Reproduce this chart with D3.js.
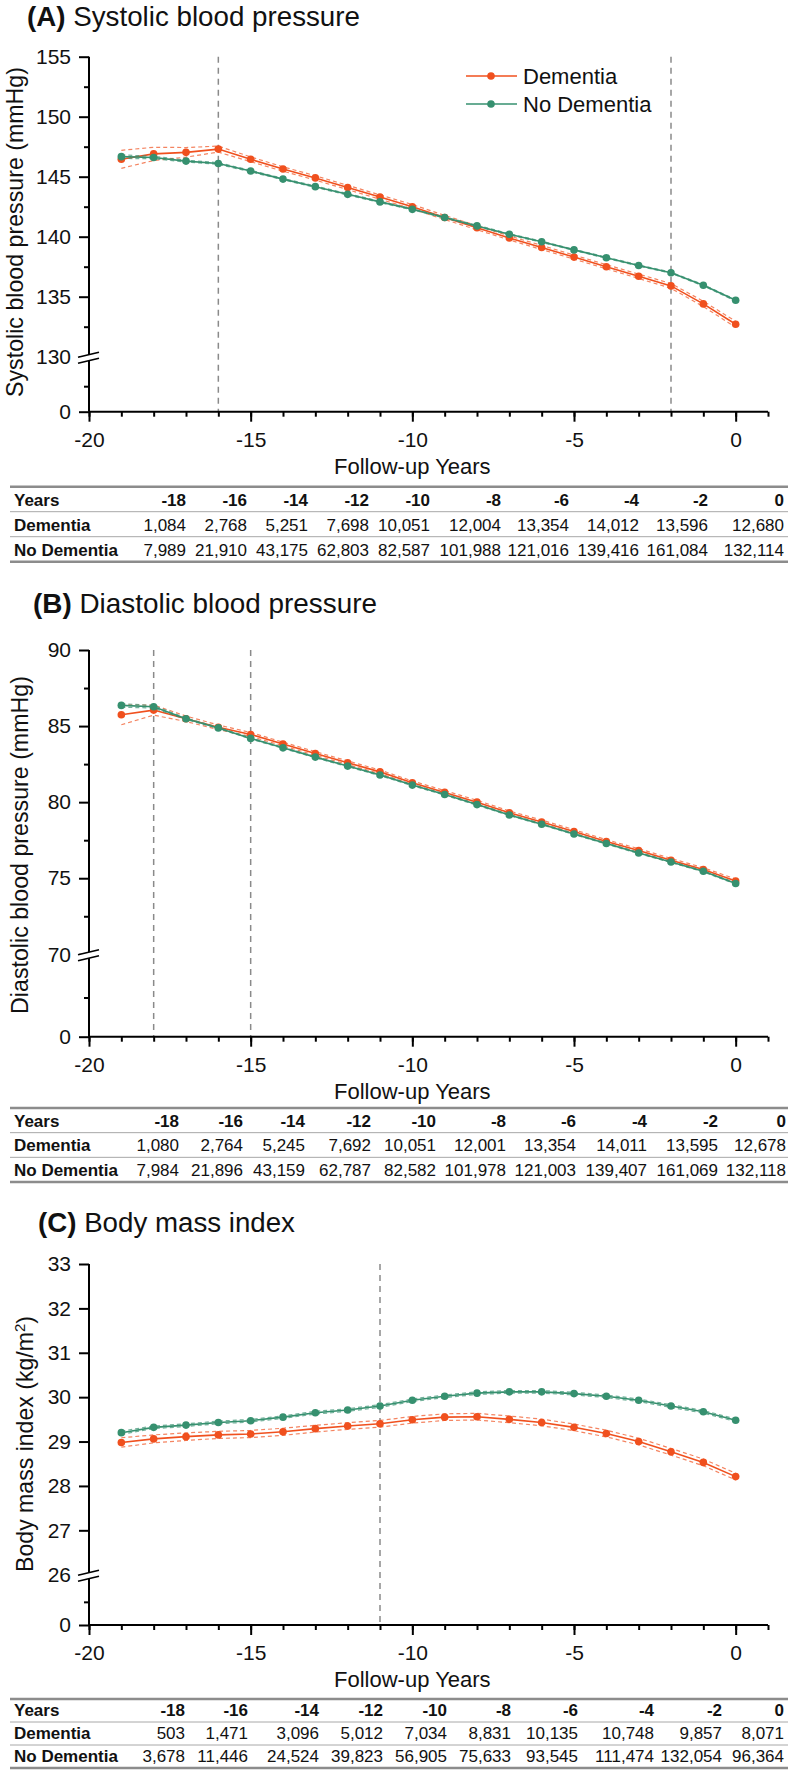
<!DOCTYPE html>
<html>
<head>
<meta charset="utf-8">
<script src="https://cdn.jsdelivr.net/npm/d3@7"></script>
<style>
  body { margin: 0; background: #fff; }
  svg { display: block; font-family: "Liberation Sans", Arial, sans-serif; }
</style>
</head>
<body>
<svg id="chart" width="796" height="1770"></svg>
<script>
// follow-up years of every plotted point
const years = [-19, -18, -17, -16, -15, -14, -13, -12, -11, -10, -9, -8, -7, -6, -5, -4, -3, -2, -1, 0];

// (A) systolic blood pressure, mmHg
const sbpDem     = [146.45, 146.9, 147.03, 147.3, 146.45, 145.64, 144.9, 144.1, 143.3, 142.5, 141.6, 140.75, 139.9, 139.1, 138.3, 137.5, 136.7, 135.9, 134.4, 132.7];
const sbpDemCI   = [0.75, 0.55, 0.4, 0.25, 0.2, 0.18, 0.18, 0.18, 0.18, 0.18, 0.17, 0.17, 0.17, 0.17, 0.17, 0.17, 0.18, 0.2, 0.22, 0.25];
const sbpNoDem   = [146.67, 146.6, 146.3, 146.1, 145.47, 144.8, 144.17, 143.53, 142.9, 142.28, 141.6, 140.9, 140.2, 139.58, 138.9, 138.25, 137.6, 137.0, 135.95, 134.7];
const sbpNoDemCI = [0.15, 0.1, 0.08, 0.07, 0.06, 0.06, 0.06, 0.06, 0.06, 0.05, 0.05, 0.05, 0.05, 0.05, 0.05, 0.05, 0.05, 0.05, 0.05, 0.06];

// (B) diastolic blood pressure, mmHg
const dbpDem     = [85.74, 86.05, 85.48, 84.92, 84.45, 83.82, 83.2, 82.59, 81.99, 81.27, 80.64, 80.0, 79.3, 78.7, 78.07, 77.41, 76.82, 76.18, 75.57, 74.82];
const dbpDemCI   = [0.65, 0.33, 0.18, 0.15, 0.13, 0.12, 0.12, 0.12, 0.12, 0.12, 0.12, 0.12, 0.12, 0.12, 0.12, 0.12, 0.12, 0.12, 0.12, 0.13];
const dbpNoDem   = [86.36, 86.27, 85.48, 84.88, 84.19, 83.57, 82.96, 82.37, 81.78, 81.12, 80.5, 79.84, 79.16, 78.55, 77.91, 77.28, 76.66, 76.07, 75.46, 74.65];
const dbpNoDemCI = [0.12, 0.08, 0.05, 0.04, 0.04, 0.04, 0.04, 0.04, 0.04, 0.04, 0.04, 0.04, 0.04, 0.04, 0.04, 0.04, 0.04, 0.04, 0.04, 0.04];

// (C) body mass index, kg/m2
const bmiDem     = [28.98, 29.06, 29.11, 29.15, 29.17, 29.22, 29.29, 29.35, 29.4, 29.49, 29.55, 29.56, 29.5, 29.43, 29.32, 29.18, 29.0, 28.77, 28.53, 28.21];
const bmiDemCI   = [0.105, 0.09, 0.085, 0.08, 0.08, 0.08, 0.075, 0.075, 0.075, 0.075, 0.075, 0.075, 0.075, 0.075, 0.075, 0.075, 0.075, 0.075, 0.075, 0.075];
const bmiNoDem   = [29.2, 29.32, 29.37, 29.43, 29.47, 29.55, 29.65, 29.71, 29.8, 29.93, 30.02, 30.09, 30.12, 30.12, 30.08, 30.02, 29.93, 29.8, 29.67, 29.48];
const bmiNoDemCI = [0.035, 0.03, 0.03, 0.03, 0.03, 0.03, 0.03, 0.03, 0.03, 0.03, 0.03, 0.03, 0.03, 0.03, 0.03, 0.03, 0.03, 0.03, 0.03, 0.03];

// numbers-at-risk tables
const tableYears   = ["-18", "-16", "-14", "-12", "-10", "-8", "-6", "-4", "-2", "0"];
const sbpNDem      = ["1,084", "2,768", "5,251", "7,698", "10,051", "12,004", "13,354", "14,012", "13,596", "12,680"];
const sbpNNoDem    = ["7,989", "21,910", "43,175", "62,803", "82,587", "101,988", "121,016", "139,416", "161,084", "132,114"];
const dbpNDem      = ["1,080", "2,764", "5,245", "7,692", "10,051", "12,001", "13,354", "14,011", "13,595", "12,678"];
const dbpNNoDem    = ["7,984", "21,896", "43,159", "62,787", "82,582", "101,978", "121,003", "139,407", "161,069", "132,118"];
const bmiNDem      = ["503", "1,471", "3,096", "5,012", "7,034", "8,831", "10,135", "10,748", "9,857", "8,071"];
const bmiNNoDem    = ["3,678", "11,446", "24,524", "39,823", "56,905", "75,633", "93,545", "111,474", "132,054", "96,364"];

const DEM = "#f0501e", NODEM = "#36906f";

const svg = d3.select("#chart");
const x = d3.scaleLinear().domain([-20, 1]).range([89, 768]);

function series(vals, ci) {
  return years.map((yr, i) => ({ yr: yr, v: vals[i], lo: vals[i] - ci[i], hi: vals[i] + ci[i] }));
}

// scale a text's font so it spans the given width
function fitWidth(sel, target) {
  const w = sel.node().getComputedTextLength();
  const fs = parseFloat(sel.style("font-size"));
  if (w > 0) sel.style("font-size", (fs * target / w).toFixed(2) + "px");
}

function drawPanel(p) {
  const g = svg.append("g");
  const y = d3.scaleLinear().domain([p.yMin, p.yMax]).range([p.yBot, p.yTop]);
  const yLow = d3.scaleLinear().domain([0, 1]).range([p.y0, p.yBot + 4]);

  // title
  const t = g.append("text").attr("x", p.titleX).attr("y", p.titleY)
    .style("font-size", "28px").attr("fill", "#111");
  t.append("tspan").style("font-weight", "bold").text(p.letter);
  t.append("tspan").text(" " + p.title);
  fitWidth(t, p.titleW);
  const bb = t.node().getBBox();
  if (bb.y < 1) t.attr("y", p.titleY + 1 - bb.y);

  // reference lines
  g.selectAll(".vref").data(p.vlines).enter().append("line")
    .attr("x1", d => x(d)).attr("x2", d => x(d))
    .attr("y1", p.yTop).attr("y2", p.y0)
    .attr("stroke", "#8a8a8a").attr("stroke-width", 1.5)
    .attr("stroke-dasharray", "6,5");

  // y axis
  const ya = g.append("g").attr("transform", `translate(${x(-20)},0)`);
  ya.call(d3.axisLeft(y).tickValues(p.yTicks).tickSize(10).tickPadding(8).tickFormat(d => String(d)));
  if (p.yMinor.length) {
    ya.append("g").call(d3.axisLeft(y).tickValues(p.yMinor).tickSize(5).tickFormat(""));
  }
  ya.append("g").call(d3.axisLeft(yLow).tickValues([0]).tickSize(10).tickPadding(8).tickFormat(d => String(d)));
  ya.append("g").call(d3.axisLeft(yLow).tickValues([0.5]).tickSize(5).tickFormat(""));
  ya.selectAll(".domain").remove();
  ya.append("line").attr("y1", p.yTop).attr("y2", p.y0).attr("stroke", "#000").attr("stroke-width", 2);
  ya.selectAll(".tick line").attr("stroke-width", 2);
  ya.selectAll(".tick text").style("font-size", "21px").attr("fill", "#111");

  // axis break
  const bc = p.yBot + 1.5;
  ya.append("path")
    .attr("d", `M-11,${bc - 1} L10,${bc - 6} L10,${bc} L-11,${bc + 5} Z`)
    .attr("fill", "#fff");
  [bc - 3.5, bc + 2.5].forEach(b => {
    ya.append("line").attr("x1", -11).attr("y1", b + 2.5).attr("x2", 10).attr("y2", b - 2.5)
      .attr("stroke", "#000").attr("stroke-width", 1.6);
  });

  // x axis
  const xa = g.append("g").attr("transform", `translate(0,${p.y0})`);
  xa.append("g").call(d3.axisBottom(x).tickValues(d3.range(-20, 2)).tickSize(5).tickFormat(""));
  xa.append("g").call(d3.axisBottom(x).tickValues([-20, -15, -10, -5, 0]).tickSize(10).tickPadding(10)
    .tickFormat(d => String(d)));
  xa.selectAll(".domain").remove();
  xa.append("line").attr("x1", x(-20)).attr("x2", x(1)).attr("stroke", "#000").attr("stroke-width", 2);
  xa.selectAll(".tick line").attr("stroke-width", 2);
  xa.selectAll(".tick text").style("font-size", "21px").attr("fill", "#111");

  g.append("text").attr("x", x(-10)).attr("y", p.y0 + 62)
    .attr("text-anchor", "middle").style("font-size", "22px").attr("fill", "#111")
    .text("Follow-up Years");

  // y title, kept inside the left edge
  const yt = g.append("text")
    .attr("transform", `translate(${p.yTitleX},${p.yTitleC}) rotate(-90)`)
    .attr("text-anchor", "middle").style("font-size", "22px").attr("fill", "#111");
  yt.append("tspan").text(p.yTitle);
  if (p.yTitleSup) {
    yt.append("tspan").attr("dy", -8).style("font-size", "0.65em").text(p.yTitleSup);
    yt.append("tspan").attr("dy", 8).text(")");
  }
  fitWidth(yt, p.yTitleW);
  const left = yt.node().getBoundingClientRect().left;
  if (left < 2) {
    yt.attr("transform", `translate(${p.yTitleX + 2 - left},${p.yTitleC}) rotate(-90)`);
  }

  // series: confidence bounds, line, points
  const line = d3.line().x(d => x(d.yr)).y(d => y(d.v));
  [{ s: series(p.dem, p.demCI), c: DEM }, { s: series(p.noDem, p.noDemCI), c: NODEM }].forEach(o => {
    ["lo", "hi"].forEach(k => {
      g.append("path").datum(o.s)
        .attr("d", d3.line().x(d => x(d.yr)).y(d => y(d[k])))
        .attr("fill", "none").attr("stroke", o.c).attr("stroke-opacity", 0.7)
        .attr("stroke-width", 1.2).attr("stroke-dasharray", "4,3");
    });
    g.append("path").datum(o.s).attr("d", line)
      .attr("fill", "none").attr("stroke", o.c).attr("stroke-width", 1.6);
    g.selectAll(null).data(o.s).enter().append("circle")
      .attr("cx", d => x(d.yr)).attr("cy", d => y(d.v)).attr("r", 3.8)
      .attr("fill", o.c);
  });

  // legend
  if (p.legend) {
    const lg = g.append("g").attr("transform", "translate(466,76)");
    [["Dementia", DEM], ["No Dementia", NODEM]].forEach((e, i) => {
      const r = lg.append("g").attr("transform", `translate(0,${i * 28})`);
      r.append("line").attr("x1", 0).attr("x2", 51).attr("stroke", e[1]).attr("stroke-width", 1.6);
      r.append("circle").attr("cx", 25).attr("r", 3.8).attr("fill", e[1]);
      r.append("text").attr("x", 57).attr("y", 8).style("font-size", "22px").attr("fill", "#111").text(e[0]);
    });
  }

  // numbers table
  const tb = g.append("g");
  const rowH = (p.tBot - p.tTop) / 3;
  [p.tTop, p.tBot].forEach(yy => tb.append("line").attr("x1", 10).attr("x2", 788)
    .attr("y1", yy).attr("y2", yy).attr("stroke", "#8c8c8c").attr("stroke-width", 2.5));
  [1, 2].forEach(k => tb.append("line").attr("x1", 10).attr("x2", 788)
    .attr("y1", p.tTop + k * rowH).attr("y2", p.tTop + k * rowH)
    .attr("stroke", "#a8a8a8").attr("stroke-width", 1));
  const rows = [["Years", tableYears, true], ["Dementia", p.nDem, false], ["No Dementia", p.nNoDem, false]];
  rows.forEach((r, k) => {
    const by = p.tTop + k * rowH + rowH * 0.76;
    tb.append("text").attr("x", 14).attr("y", by).style("font-size", "17px")
      .style("font-weight", "bold").attr("fill", "#111").text(r[0]);
    tb.selectAll(null).data(r[1]).enter().append("text")
      .attr("x", (d, i) => p.cols[i]).attr("y", by).attr("text-anchor", "end")
      .style("font-size", "17px").style("font-weight", r[2] ? "bold" : "normal")
      .attr("fill", "#111").text(d => d);
  });
}

drawPanel({
  letter: "(A)", title: "Systolic blood pressure", titleX: 27, titleY: 22, titleW: 333,
  yMin: 130, yMax: 155, yTop: 56.7, yBot: 356.7, y0: 411.7,
  yTicks: [130, 135, 140, 145, 150, 155], yMinor: [132.5, 137.5, 142.5, 147.5, 152.5],
  yTitle: "Systolic blood pressure (mmHg)", yTitleX: 21, yTitleC: 232, yTitleW: 330,
  vlines: [-16, -2], legend: true,
  dem: sbpDem, demCI: sbpDemCI, noDem: sbpNoDem, noDemCI: sbpNoDemCI,
  tTop: 486.7, tBot: 561.7, nDem: sbpNDem, nNoDem: sbpNNoDem,
  cols: [186, 247, 308, 369, 430, 501, 569, 639, 708, 784]
});

drawPanel({
  letter: "(B)", title: "Diastolic blood pressure", titleX: 33, titleY: 613, titleW: 344,
  yMin: 70, yMax: 90, yTop: 650, yBot: 954.3, y0: 1036.7,
  yTicks: [70, 75, 80, 85, 90], yMinor: [72.5, 77.5, 82.5, 87.5],
  yTitle: "Diastolic blood pressure (mmHg)", yTitleX: 28, yTitleC: 845, yTitleW: 338,
  vlines: [-18, -15], legend: false,
  dem: dbpDem, demCI: dbpDemCI, noDem: dbpNoDem, noDemCI: dbpNoDemCI,
  tTop: 1108, tBot: 1182, nDem: dbpNDem, nNoDem: dbpNNoDem,
  cols: [179, 243, 305, 371, 436, 506, 576, 647, 718, 786]
});

drawPanel({
  letter: "(C)", title: "Body mass index", titleX: 38, titleY: 1231.7, titleW: 257,
  yMin: 26, yMax: 33, yTop: 1264, yBot: 1574.7, y0: 1625,
  yTicks: [26, 27, 28, 29, 30, 31, 32, 33], yMinor: [],
  yTitle: "Body mass index (kg/m", yTitleSup: "2", yTitleX: 33, yTitleC: 1444, yTitleW: 256,
  vlines: [-11], legend: false,
  dem: bmiDem, demCI: bmiDemCI, noDem: bmiNoDem, noDemCI: bmiNoDemCI,
  tTop: 1699, tBot: 1768, nDem: bmiNDem, nNoDem: bmiNNoDem,
  cols: [185, 248, 319, 383, 447, 511, 578, 654, 722, 784]
});
</script>
</body>
</html>
